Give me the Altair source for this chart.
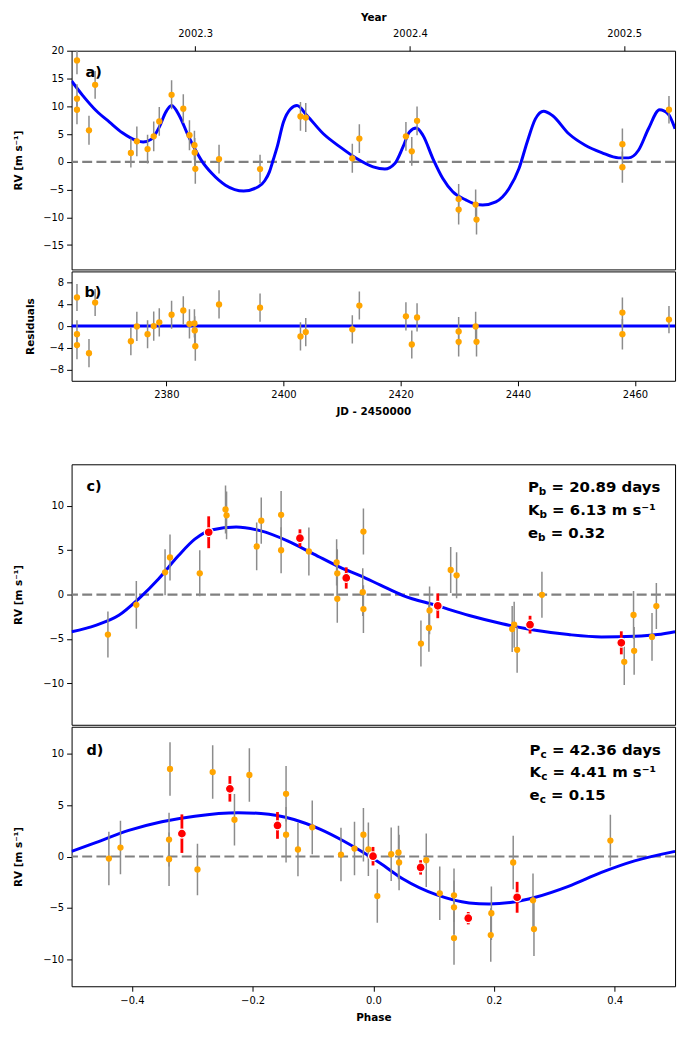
import altair as alt
import pandas as pd

FONT = "DejaVu Sans"
ORANGE = "#ffa500"
BLUE = "#0000ff"
GRAY = "#808080"
ERRGRAY = "#8c8c8c"
RED = "#ff0000"

# ---------------- panel a / b : time series ----------------
jd = [2364.75, 2364.75, 2364.75, 2366.8, 2367.85, 2373.95, 2374.97, 2376.8, 2377.85, 2378.8,
      2380.9, 2382.9, 2383.95, 2384.8, 2384.85, 2384.95, 2389.0, 2396.0, 2402.9, 2403.8,
      2411.75, 2412.95, 2420.9, 2421.9, 2422.8, 2429.9, 2429.9, 2432.8, 2432.95, 2457.85,
      2457.85, 2465.8]
rv = [18.3, 11.4, 9.4, 5.7, 13.9, 1.6, 3.7, 2.3, 4.6, 7.3,
      12.1, 9.6, 4.8, 3.0, 1.7, -1.25, 0.5, -1.3, 8.2, 8.0,
      0.65, 4.2, 4.6, 1.9, 7.4, -6.7, -8.6, -7.7, -10.4, 3.2,
      -0.95, 9.4]
rv_err = [2.5, 2.6, 2.6, 2.6, 2.5, 2.6, 2.7, 2.6, 2.7, 2.6,
          2.6, 2.6, 2.7, 2.6, 2.6, 2.7, 2.6, 2.6, 2.6, 2.6,
          2.6, 2.6, 2.6, 2.6, 2.6, 2.7, 2.7, 2.7, 2.7, 2.8,
          2.8, 2.5]
resid = [5.3, -1.5, -3.5, -5.0, 4.35, -2.8, -0.05, -1.5, 0.0, 0.7,
         2.1, 2.9, 0.4, 0.5, -0.8, -3.7, 4.0, 3.4, -1.9, -1.1,
         -0.6, 3.8, 1.8, -3.4, 1.6, -1.0, -2.9, -0.05, -2.9, 2.5,
         -1.5, 1.2]

model_jd = [2363.83, 2365.75, 2368.0, 2370.3, 2372.5, 2374.8, 2376.05, 2377.4, 2378.8, 2379.9,
            2380.9, 2382.2, 2383.6, 2385.0, 2386.1, 2387.8, 2390.1, 2393.2, 2395.7, 2396.8,
            2397.6, 2398.2, 2398.9, 2400.0, 2401.2, 2402.3, 2404.0, 2406.8, 2409.65, 2412.5,
            2415.3, 2417.3, 2419.0, 2420.4, 2421.5, 2422.7, 2423.8, 2425.5, 2427.2, 2428.9,
            2431.2, 2432.85, 2434.0, 2436.25, 2438.5, 2440.2, 2441.6, 2443.0, 2444.4, 2445.9,
            2448.7, 2451.5, 2454.3, 2457.2, 2458.9, 2460.6, 2462.3, 2464.2, 2465.65, 2466.84]
model_rv = [14.6, 11.95, 9.26, 7.17, 5.25, 3.9, 3.58, 4.06, 6.27, 8.96,
            10.16, 8.37, 5.07, 2.1, 0.1, -2.1, -4.2, -5.26, -4.5, -3.4,
            -1.8, 0.2, 2.6, 7.2, 9.55, 10.15, 8.37, 5.07, 2.7, 0.6,
            -0.9, -1.3, -0.3, 2.7, 5.4, 6.1, 4.8, 0.6, -3.0, -5.4,
            -6.9, -7.65, -7.76, -7.2, -4.8, -1.2, 3.6, 7.76, 9.14, 8.37,
            5.07, 3.0, 1.67, 0.72, 0.72, 2.1, 5.97, 9.4, 8.66, 5.97]

year_tick_jd = [2384.92, 2421.58, 2458.14]
jd_ticks = [2380, 2400, 2420, 2440, 2460]

# ---------------- panel c : planet b phase-folded ----------------
phase_b = [-0.4398, -0.3927, -0.3451, -0.3369, -0.2876, -0.2449, -0.2432, -0.1933, -0.1857, -0.1528,
           -0.1528, -0.1068, -0.0608, -0.0597, -0.0597, -0.0164, -0.0175, -0.0164, 0.0789, 0.0921,
           0.0932, 0.1282, 0.138, 0.2301, 0.2334, 0.2383, 0.2794, 0.4158, 0.4312, 0.4322,
           0.4618, 0.469]
rv_b = [-4.52, -1.16, 2.51, 4.19, 2.4, 9.6, 8.94, 5.43, 8.34, 9.0,
        5.0, 4.86, 3.63, 2.4, -0.48, 7.11, 0.27, -1.64, -5.53, -3.77,
        -1.79, 2.77, 2.17, -3.89, -3.4, -6.24, -0.03, -7.6, -2.31, -6.35,
        -4.78, -1.3]
err_b = [2.6, 2.7, 2.6, 2.6, 2.6, 2.7, 2.7, 2.7, 2.6, 2.7,
         2.6, 2.7, 2.6, 2.7, 2.7, 2.6, 2.7, 2.7, 2.6, 2.7,
         2.7, 2.6, 2.6, 2.6, 2.6, 2.6, 2.6, 2.6, 2.7, 2.7,
         2.7, 2.6]
bin_phase_b = [-0.2728, -0.1216, -0.0449, 0.1068, 0.2597, 0.4109]
bin_rv_b = [7.03, 6.36, 1.87, -1.27, -3.4, -5.45]
bin_err_b = [1.8, 1.0, 1.2, 1.4, 1.0, 1.3]
curve_phase_b = [-0.5, -0.4601, -0.4217, -0.3888, -0.356, -0.3231, -0.2958, -0.2684, -0.2273, -0.1862,
                 -0.1423, -0.0986, -0.0547, -0.0219, 0.011, 0.0493, 0.1042, 0.1589, 0.2136, 0.2685,
                 0.3233, 0.378, 0.4329, 0.4711, 0.5]
curve_rv_b = [-4.2, -3.47, -2.35, -0.48, 1.76, 4.37, 6.25, 7.29, 7.63, 7.18,
              6.06, 4.57, 3.07, 2.13, 1.09, -0.11, -1.23, -2.36, -3.29, -4.04,
              -4.52, -4.78, -4.71, -4.52, -4.2]

# ---------------- panel d : planet c phase-folded ----------------
phase_c = [-0.4382, -0.419, -0.3385, -0.3385, -0.3369, -0.2914, -0.2662, -0.2301, -0.2054, -0.1446,
           -0.1446, -0.1249, -0.1012, -0.0536, -0.0312, -0.0164, -0.0082, 0.0066, 0.0296, 0.0417,
           0.0427, 0.0877, 0.1101, 0.1337, 0.1337, 0.1337, 0.1946, 0.1956, 0.2318, 0.2646,
           0.2662, 0.3928]
rv_c = [-0.2, 0.87, 1.64, -0.26, 8.5, -1.26, 8.2, 3.57, 7.92, 6.09,
        2.12, 0.68, 2.83, 0.19, 0.77, 2.12, 0.7, -3.84, 0.22, 0.39,
        -0.58, -0.36, -3.57, -3.77, -4.93, -7.92, -7.63, -5.51, -0.58, -4.25,
        -7.05, 1.55]
err_c = [2.6, 2.6, 2.6, 2.6, 2.6, 2.5, 2.6, 2.5, 2.6, 2.7,
         2.7, 2.6, 2.6, 2.6, 2.6, 2.6, 2.6, 2.6, 2.6, 2.6,
         2.7, 2.6, 2.6, 2.6, 2.6, 2.6, 2.6, 2.6, 2.6, 2.6,
         2.6, 2.5]
bin_phase_c = [-0.3172, -0.2377, -0.1588, -0.0005, 0.0784, 0.1573, 0.2383]
bin_rv_c = [2.22, 6.57, 3.02, 0.03, -1.06, -5.99, -3.96]
bin_err_c = [1.87, 1.24, 1.3, 0.9, 0.7, 0.6, 1.5]
curve_phase_c = [-0.5, -0.4601, -0.4053, -0.3505, -0.2958, -0.2245, -0.1862, -0.1315, -0.0876, -0.0493,
                 -0.0164, 0.011, 0.0493, 0.1042, 0.1589, 0.1918, 0.2301, 0.2685, 0.3233, 0.378,
                 0.4329, 0.5]
curve_rv_c = [0.5, 1.35, 2.54, 3.38, 3.92, 4.25, 4.18, 3.6, 2.64, 1.51,
              0.39, -0.63, -2.19, -3.71, -4.51, -4.61, -4.44, -3.96, -2.9, -1.55,
              -0.43, 0.5]
phase_ticks = [-0.4, -0.2, 0.0, 0.2, 0.4]

# ---------------- helpers ----------------
W = 607


def yaxis(title, values, title_x):
    return alt.Axis(title=title, values=values, grid=False, domain=False, tickSize=5,
                    tickColor="black", labelPadding=3, labelFontSize=10, labelFont=FONT,
                    labelColor="black", titleFont=FONT, titleFontSize=10.5,
                    titleFontWeight="bold", titleColor="black", titleX=title_x,
                    labelExpr="replace(datum.label, '-', '\u2212')")


def xaxis(title, values, fmt=None, orient="bottom", label_expr=None, tpad=6, lpad=4):
    kw = dict(title=title, values=values, grid=False, domain=False, tickSize=5,
              tickColor="black", labelPadding=lpad, labelFontSize=10, labelFont=FONT,
              labelColor="black", titleFont=FONT, titleFontSize=10.5, titleFontWeight="bold",
              titleColor="black", titlePadding=tpad, orient=orient, labelFlush=False)
    if fmt:
        kw["format"] = fmt
    if label_expr:
        kw["labelExpr"] = label_expr
    else:
        kw["labelExpr"] = "replace(datum.label, '-', '\u2212')"
    return alt.Axis(**kw)


def points_df(xs, ys, es):
    return pd.DataFrame({"x": xs, "y": ys, "lo": [a - b for a, b in zip(ys, es)],
                         "hi": [a + b for a, b in zip(ys, es)]})


def label_text(txt, px, py, size=14.5):
    return alt.Chart(pd.DataFrame({"t": [0]})).mark_text(
        text=txt, font=FONT, fontWeight="bold", fontSize=size, align="left",
        baseline="alphabetic", color="black").encode(x=alt.value(px), y=alt.value(py))


def param_block(letter, sub, vals, x0, y0):
    layers = []
    widths = {"P": 11.0, "K": 11.6, "e": 10.2}
    subw = {"b": 7.5, "c": 6.2}
    for i, (main, rest) in enumerate(zip(["P", "K", "e"], vals)):
        y = y0 + i * 22.7
        layers.append(label_text(main, x0, y, 15))
        xs = x0 + widths[main]
        layers.append(label_text(sub, xs, y + 3, 10.5))
        layers.append(label_text(rest, xs + subw[sub] + 5.2, y, 15))
    return layers


def panel(xs, ys, es, xscale, yscale, xax, yax, h, curve=None, bins=None,
          zero_blue=False, labels=()):
    d = points_df(xs, ys, es)
    layers = []
    zero = alt.Chart(pd.DataFrame({"z": [0.0]}))
    if zero_blue:
        layers.append(zero.mark_rule(color=BLUE, strokeWidth=3).encode(
            y=alt.Y("z:Q", scale=yscale, axis=yax)))
    else:
        layers.append(zero.mark_rule(color=GRAY, strokeWidth=2.2, strokeDash=[10, 4.3]).encode(
            y=alt.Y("z:Q", scale=yscale, axis=yax)))
    if curve is not None:
        cdf = pd.DataFrame({"x": curve[0], "y": curve[1]})
        layers.append(alt.Chart(cdf).mark_line(color=BLUE, strokeWidth=3, clip=True,
                                               interpolate="monotone").encode(
            x=alt.X("x:Q", scale=xscale, axis=xax),
            y=alt.Y("y:Q", scale=yscale, axis=yax)))
    base = alt.Chart(d)
    layers.append(base.mark_rule(color=ERRGRAY, strokeWidth=1.5, clip=True).encode(
        x=alt.X("x:Q", scale=xscale, axis=xax),
        y=alt.Y("lo:Q", scale=yscale, axis=yax), y2="hi:Q"))
    layers.append(base.mark_circle(color=ORANGE, opacity=1, size=40, clip=True).encode(
        x=alt.X("x:Q", scale=xscale, axis=xax),
        y=alt.Y("y:Q", scale=yscale, axis=yax)))
    if bins is not None:
        bd = points_df(*bins)
        bb = alt.Chart(bd)
        layers.append(bb.mark_rule(color=RED, strokeWidth=2.8).encode(
            x=alt.X("x:Q", scale=xscale, axis=xax),
            y=alt.Y("lo:Q", scale=yscale, axis=yax), y2="hi:Q"))
        layers.append(bb.mark_point(filled=True, fill=RED, stroke="white", strokeWidth=1.2,
                                    opacity=1, size=80, shape="circle").encode(
            x=alt.X("x:Q", scale=xscale, axis=xax),
            y=alt.Y("y:Q", scale=yscale, axis=yax)))
    layers.extend(labels)
    return alt.layer(*layers).properties(width=W, height=h)


jd_scale = alt.Scale(domain=[2363.83, 2466.84], nice=False, zero=False)
ph_scale = alt.Scale(domain=[-0.5, 0.5], nice=False, zero=False)

ax_year = xaxis("Year", year_tick_jd, orient="top",
                label_expr="format(2002 + (datum.value - 2275.5) / 365.25, '.1f')",
                tpad=6, lpad=7)
ax_jd = xaxis("JD - 2450000", jd_ticks, fmt="d", tpad=7)
ax_ph = xaxis("Phase", phase_ticks, fmt=".1f", tpad=7)

rv_title = "RV [m s\u207b\u00b9]"

pa = panel(jd, rv, rv_err, jd_scale,
           alt.Scale(domain=[-19.4, 20.05], nice=False, zero=False), ax_year,
           yaxis(rv_title, [-15, -10, -5, 0, 5, 10, 15, 20], -48), 220,
           curve=(model_jd, model_rv), labels=[label_text("a)", 14, 26)])

pb = panel(jd, resid, rv_err, jd_scale,
           alt.Scale(domain=[-10.1, 10.1], nice=False, zero=False), ax_jd,
           yaxis("Residuals", [-8, -4, 0, 4, 8], -36), 110,
           zero_blue=True, labels=[label_text("b)", 13, 26)])

pc = panel(phase_b, rv_b, err_b, ph_scale,
           alt.Scale(domain=[-14.7, 14.7], nice=False, zero=False), None,
           yaxis(rv_title, [-10, -5, 0, 5, 10], -48), 262,
           curve=(curve_phase_b, curve_rv_b), bins=(bin_phase_b, bin_rv_b, bin_err_b),
           labels=[label_text("c)", 15, 27)] +
           param_block("P", "b", ["= 20.89 days", "= 6.13 m s\u207b\u00b9", "= 0.32"], 459, 28.3))

pd_ = panel(phase_c, rv_c, err_c, ph_scale,
            alt.Scale(domain=[-12.6, 12.6], nice=False, zero=False), ax_ph,
            yaxis(rv_title, [-10, -5, 0, 5, 10], -48), 261,
            curve=(curve_phase_c, curve_rv_c), bins=(bin_phase_c, bin_rv_c, bin_err_c),
            labels=[label_text("d)", 15, 28)] +
            param_block("P", "c", ["= 42.36 days", "= 4.41 m s\u207b\u00b9", "= 0.15"], 460.7, 28))

top = alt.vconcat(pa, pb, spacing=0)
bottom = alt.vconcat(pc, pd_, spacing=0)

chart = alt.vconcat(top, bottom, spacing=46).properties(
    padding={"left": 13, "top": 9, "right": 9, "bottom": 5},
    background="white",
).configure_view(stroke="black", strokeWidth=1).configure_concat(spacing=0)

chart.save("out.html", embed_options={"renderer": "svg", "actions": False})
